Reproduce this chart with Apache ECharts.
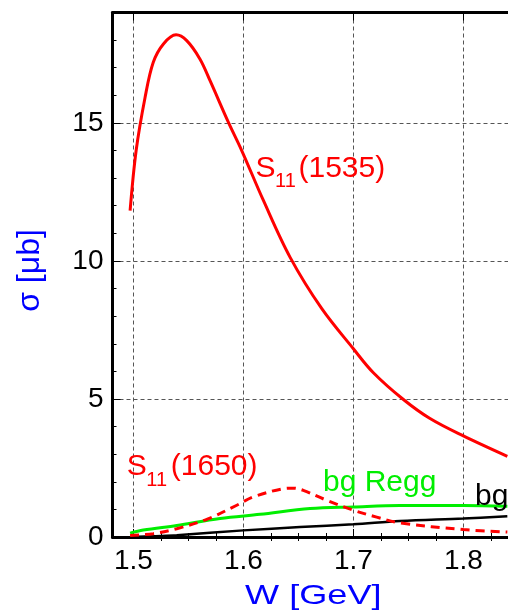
<!DOCTYPE html>
<html>
<head>
<meta charset="utf-8">
<script src="https://cdn.jsdelivr.net/npm/echarts@6/dist/echarts.min.js"></script>
<style>
  html, body { margin: 0; padding: 0; background: #ffffff; }
  #chart { width: 508px; height: 615px; }
</style>
</head>
<body>
<div id="chart"></div>
<script>
// Total cross section contributions versus centre-of-mass energy W [GeV]

// S11(1535) resonance (red, solid)
const wS1535 = [1.497, 1.5025, 1.5106, 1.518, 1.5273, 1.5388, 1.5485, 1.5606, 1.5697, 1.5864, 1.5985, 1.6182, 1.6425, 1.6713, 1.7, 1.7182, 1.7455, 1.7697, 1.8, 1.84];
const sS1535 = [11.82, 14.0, 15.92, 17.19, 17.86, 18.19, 17.98, 17.31, 16.53, 15.02, 14.0, 12.19, 10.13, 8.27, 6.82, 5.95, 4.98, 4.29, 3.66, 2.92];

// S11(1650) resonance (red, dashed)
const wS1650 = [1.497, 1.518, 1.5394, 1.5667, 1.594, 1.609, 1.6364, 1.645, 1.6545, 1.6758, 1.7, 1.7212, 1.7424, 1.8, 1.84];
const sS1650 = [0.05, 0.12, 0.30, 0.64, 1.15, 1.45, 1.75, 1.77, 1.69, 1.33, 0.97, 0.72, 0.51, 0.27, 0.18];

// Regge background (green)
const wRegg = [1.497, 1.509, 1.5394, 1.5788, 1.6152, 1.6606, 1.7, 1.7424, 1.8, 1.84];
const sRegg = [0.14, 0.25, 0.42, 0.67, 0.82, 1.03, 1.09, 1.14, 1.14, 1.11];

// Background (black)
const wBg = [1.497, 1.52, 1.5394, 1.6, 1.6515, 1.7, 1.7424, 1.8, 1.84];
const sBg = [0.0, 0.03, 0.06, 0.24, 0.36, 0.46, 0.58, 0.67, 0.75];

// Axis ticks
const xMajor = [1.5, 1.6, 1.7, 1.8];
const xMinor = [1.525, 1.55, 1.575, 1.625, 1.65, 1.675, 1.725, 1.75, 1.775, 1.825];
const yLabels = [0, 5, 10, 15];
const yMajor = [5, 10, 15];
const yMinor = [1, 2, 3, 4, 6, 7, 8, 9, 11, 12, 13, 14, 16, 17, 18];

const X_MIN = 1.481, X_MAX = 1.8406, Y_MIN = 0, Y_MAX = 19;
const FONT = '"Liberation Sans", Arial, Helvetica, sans-serif';

const zip = (xs, ys) => xs.map((x, i) => [x, ys[i]]);

const gridLine = { show: true, lineStyle: { color: '#555', width: 1, type: [4, 3] } };

function baseX(position, opts) {
  return Object.assign({
    type: 'value', gridIndex: 0, position: position, min: X_MIN, max: X_MAX,
    axisLine: { show: false },
    axisTick: { show: false },
    axisLabel: { show: false },
    splitLine: { show: false }
  }, opts);
}
function baseY(opts) {
  return Object.assign({
    type: 'value', gridIndex: 0, position: 'left', min: Y_MIN, max: Y_MAX,
    axisLine: { show: false },
    axisTick: { show: false },
    axisLabel: { show: false },
    splitLine: { show: false }
  }, opts);
}

const xAxes = [
  baseX('bottom', {
    axisLine: { show: true, onZero: false, lineStyle: { color: '#000', width: 3 } },
    axisTick: { show: true, inside: true, length: 8, customValues: xMajor, lineStyle: { color: '#000', width: 1 } },
    axisLabel: { show: true, customValues: xMajor, margin: 10, fontSize: 28, fontFamily: FONT, color: '#000',
                 formatter: v => v.toFixed(1) },
    splitLine: gridLine
  }),
  baseX('bottom', {
    axisTick: { show: true, inside: true, length: 4, customValues: xMinor, lineStyle: { color: '#000', width: 1 } }
  }),
  baseX('top', {
    axisLine: { show: true, onZero: false, lineStyle: { color: '#000', width: 3 } },
    axisTick: { show: true, inside: true, length: 8, customValues: xMajor, lineStyle: { color: '#000', width: 1 } }
  }),
  baseX('top', {
    axisTick: { show: true, inside: true, length: 4, customValues: xMinor, lineStyle: { color: '#000', width: 1 } }
  })
];

const yAxes = [
  baseY({
    axisLine: { show: true, onZero: false, lineStyle: { color: '#000', width: 3 } },
    axisTick: { show: true, inside: true, length: 8, customValues: yMajor, lineStyle: { color: '#000', width: 1 } },
    axisLabel: { show: true, customValues: yLabels, margin: 9, fontSize: 28, fontFamily: FONT, color: '#000' },
    splitLine: gridLine
  }),
  baseY({
    axisTick: { show: true, inside: true, length: 4, customValues: yMinor, lineStyle: { color: '#000', width: 1 } }
  })
];

function line(name, w, s, color, width, type, z) {
  return {
    name: name, type: 'line', xAxisIndex: 0, yAxisIndex: 0,
    data: zip(w, s), showSymbol: false, smooth: 0.35, z: z,
    lineStyle: { color: color, width: width, type: type }
  };
}

function txt(x, y, text, size, color, extra) {
  return Object.assign({
    type: 'text', x: x, y: y, z: 100,
    style: {
      text: text, fontSize: size, fontFamily: FONT, fill: color,
      textAlign: 'left', align: 'left', textVerticalAlign: 'middle', verticalAlign: 'middle'
    }
  }, extra || {});
}

const option = {
  animation: false,
  backgroundColor: '#ffffff',
  grid: { left: 112.5, right: 0, top: 12.5, bottom: 78, containLabel: false },
  xAxis: xAxes,
  yAxis: yAxes,
  series: [
    line('bg', wBg, sBg, '#000000', 2.5, 'solid', 2),
    line('bg Regg', wRegg, sRegg, '#00ee00', 3, 'solid', 3),
    line('S11(1650)', wS1650, sS1650, '#ff0000', 3, [9, 6], 4),
    line('S11(1535)', wS1535, sS1535, '#ff0000', 3, 'solid', 5)
  ],
  graphic: [
    // S11(1535)
    txt(255.5, 168.7, 'S', 30, '#ff0000'),
    txt(275, 181.8, '11', 20, '#ff0000'),
    txt(298.5, 168.7, '(1535)', 30, '#ff0000'),
    // S11(1650)
    txt(126.8, 466.7, 'S', 30, '#ff0000'),
    txt(146.3, 480.3, '11', 20, '#ff0000'),
    txt(170.8, 466.7, '(1650)', 30, '#ff0000'),
    // backgrounds
    txt(323, 482.4, 'bg Regg', 30, '#00ee00'),
    txt(475, 497.2, 'bg', 30, '#000000'),
    // axis titles
    {
      type: 'text', x: 313.3, y: 596.3, scaleX: 1.29, z: 100,
      style: { text: 'W [GeV]', fontSize: 28, fontFamily: FONT, fill: '#0000ff',
               textAlign: 'center', align: 'center', textVerticalAlign: 'middle', verticalAlign: 'middle' }
    },
    {
      type: 'text', x: 30, y: 270.5, rotation: Math.PI / 2, z: 100,
      style: { text: 'σ [μb]', fontSize: 32, fontFamily: FONT, fill: '#0000ff',
               textAlign: 'center', align: 'center', textVerticalAlign: 'middle', verticalAlign: 'middle' }
    }
  ]
};

const chart = echarts.init(document.getElementById('chart'), null, { renderer: 'canvas' });
chart.setOption(option);
</script>
</body>
</html>
